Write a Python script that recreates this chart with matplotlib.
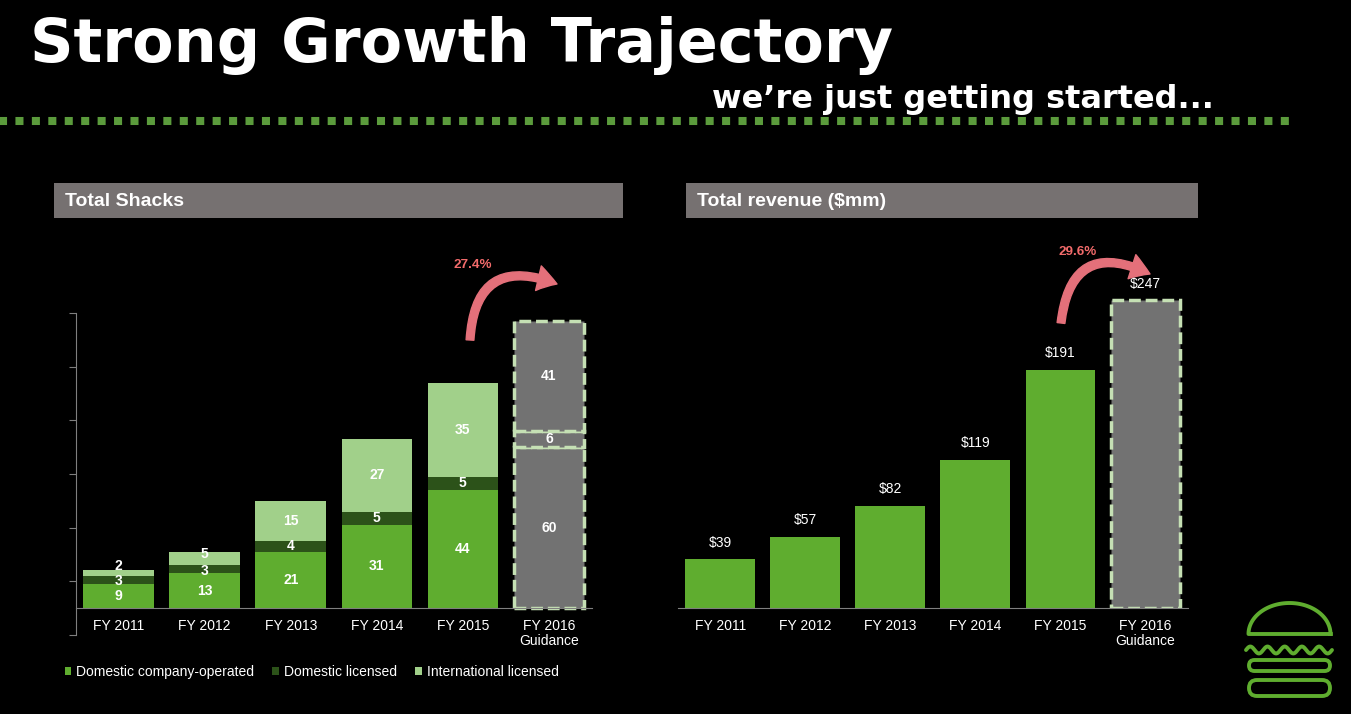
import matplotlib
matplotlib.use('Agg')
import matplotlib.pyplot as plt
from matplotlib.patches import Rectangle, FancyArrowPatch, FancyBboxPatch
from matplotlib.lines import Line2D
import numpy as np

categories = ['FY 2011', 'FY 2012', 'FY 2013', 'FY 2014', 'FY 2015', 'FY 2016\nGuidance']
domestic_company = [9, 13, 21, 31, 44, 60]
domestic_licensed = [3, 3, 4, 5, 5, 6]
international = [2, 5, 15, 27, 35, 41]
revenue = [39, 57, 82, 119, 191, 247]
shack_growth = '27.4%'
revenue_growth = '29.6%'

GREEN = '#5fad2f'
DARK_GREEN = '#2c5219'
LIGHT_GREEN = '#a1d08a'
GRAY = '#727272'
EDGE = '#c5e0b4'
HEADER = '#767171'
ARROW = '#e4707a'
PCT = '#f26b6b'
W, H = 1351, 714

plt.rcParams['font.family'] = ['Liberation Sans', 'DejaVu Sans']
fig = plt.figure(figsize=(W / 100, H / 100), dpi=100, facecolor='black')


def fx(px):
    return px / W


def fy(py):
    return 1 - py / H


# title and subtitle
fig.text(fx(30), fy(62), 'Strong Growth Trajectory', color='white', fontsize=43.5,
         fontweight='bold', family='DejaVu Sans', va='baseline', ha='left')
fig.text(fx(1214), fy(108), 'we\u2019re just getting started...',
         color='white', fontsize=23, fontweight='bold', family='DejaVu Sans',
         va='baseline', ha='right')
fig.add_artist(Line2D([fx(-6), fx(1292)], [fy(121), fy(121)], transform=fig.transFigure,
                      color='#5b9b3c', lw=5.8, solid_capstyle='butt', dash_capstyle='butt',
                      linestyle=(0, (1.0, 1.04))))

# header boxes
for x0, x1, label in [(54, 623, 'Total Shacks'), (686, 1198, 'Total revenue ($mm)')]:
    fig.add_artist(Rectangle((fx(x0), fy(218)), fx(x1 - x0), 35 / H, transform=fig.transFigure,
                             facecolor=HEADER, edgecolor='none'))
    fig.text(fx(x0 + 11), fy(201), label, color='white', fontsize=14, fontweight='bold',
             va='center', ha='left')

x = np.arange(len(categories))
bw = 0.82
dash = (0, (3.4, 1.4))
arrow_style = 'simple,head_length=1.0,head_width=1.3,tail_width=0.4'

# ---- left: total shacks ----
ax1 = fig.add_axes([fx(75.6), fy(634.8), fx(516.4), 321.6 / H])
ax1.set_facecolor('black')
ax1.set_xlim(-0.5, 5.5)
ax1.set_ylim(-10, 110)

b1 = ax1.bar(x[:5], domestic_company[:5], bw, color=GREEN, label='Domestic company-operated')
bot2 = np.array(domestic_company[:5])
b2 = ax1.bar(x[:5], domestic_licensed[:5], bw, bottom=bot2, color=DARK_GREEN,
             label='Domestic licensed')
bot3 = bot2 + np.array(domestic_licensed[:5])
b3 = ax1.bar(x[:5], international[:5], bw, bottom=bot3, color=LIGHT_GREEN,
             label='International licensed')

guid_vals = [domestic_company[5], domestic_licensed[5], international[5]]
guid_bottoms = [0, domestic_company[5], domestic_company[5] + domestic_licensed[5]]
for v, b in zip(guid_vals, guid_bottoms):
    ax1.bar(x[5], v, bw, bottom=b, color=GRAY, edgecolor=EDGE, lw=2.5, linestyle=dash)

for i in range(len(categories)):
    segs = [domestic_company[i], domestic_licensed[i], international[i]]
    b = 0
    for k, s in enumerate(segs):
        # thin segments: push the labels apart a little so they stay readable
        off = 0
        if k == 2 and s < 6:
            off = 7 if s < 3 else 4
        elif k == 1 and segs[2] < 6:
            off = -1.5
        ax1.annotate(str(s), (x[i], b + s / 2), xytext=(0, off), textcoords='offset pixels',
                     color='white', fontsize=10, fontweight='bold', ha='center', va='center')
        b += s

for s in ['top', 'right']:
    ax1.spines[s].set_visible(False)
ax1.spines['bottom'].set_position(('data', 0))
ax1.spines['bottom'].set_color('#7f7f7f')
ax1.spines['left'].set_color('#7f7f7f')
ax1.set_yticks(range(-10, 111, 20))
ax1.set_yticklabels([])
ax1.tick_params(axis='y', direction='out', length=5, color='#7f7f7f')
ax1.set_xticks(x)
ax1.set_xticklabels(categories, color='white', fontsize=10, linespacing=1.1)
ax1.tick_params(axis='x', length=0, pad=8)

arr1 = FancyArrowPatch((fx(470), fy(340)), (fx(557), fy(284)), transform=fig.transFigure,
                       connectionstyle='arc3,rad=-0.68', arrowstyle=arrow_style,
                       mutation_scale=14, color=ARROW, shrinkA=0, shrinkB=0)
fig.add_artist(arr1)
fig.text(fx(473), fy(265), shack_growth, color=PCT, fontsize=9.7, fontweight='bold',
         ha='center', va='center')

leg = fig.legend(handles=[b1, b2, b3], loc='center left', bbox_to_anchor=(fx(64.5), fy(672)),
                 ncol=3, frameon=False, fontsize=10, handlelength=0.5, handleheight=0.5,
                 handletextpad=0.35, columnspacing=1.3, borderpad=0, borderaxespad=0,
                 labelcolor='white')

# ---- right: total revenue ----
ax2 = fig.add_axes([fx(677.6), fy(608), fx(510.4), 311.25 / H])
ax2.set_facecolor('black')
ax2.set_xlim(-0.5, 5.5)
ax2.set_ylim(0, 250)
ax2.bar(x[:5], revenue[:5], bw, color=GREEN)
ax2.bar(x[5], revenue[5], bw, color=GRAY, edgecolor=EDGE, lw=2.5, linestyle=dash)
for i, v in enumerate(revenue):
    ax2.annotate(f'${v}', (x[i], v), xytext=(0, 7), textcoords='offset points',
                 color='white', fontsize=10, ha='center', va='bottom')
for s in ['top', 'right', 'left']:
    ax2.spines[s].set_visible(False)
ax2.spines['bottom'].set_color('#7f7f7f')
ax2.set_yticks([])
ax2.set_xticks(x)
ax2.set_xticklabels(categories, color='white', fontsize=10, linespacing=1.1)
ax2.tick_params(axis='x', length=0, pad=8)

arr2 = FancyArrowPatch((fx(1061), fy(323)), (fx(1150), fy(274)), transform=fig.transFigure,
                       connectionstyle='arc3,rad=-0.7', arrowstyle=arrow_style,
                       mutation_scale=14, color=ARROW, shrinkA=0, shrinkB=0)
fig.add_artist(arr2)
fig.text(fx(1078), fy(252), revenue_growth, color=PCT, fontsize=9.7, fontweight='bold',
         ha='center', va='center')

# ---- burger logo ----
lg = fig.add_axes([fx(1235), fy(705), fx(110), 110 / H])
lg.set_xlim(1235, 1345)
lg.set_ylim(705, 595)
lg.axis('off')
t = np.linspace(0, np.pi, 80)
dx = np.concatenate([1289.5 + 41 * np.cos(t), [1248.5, 1330.5]])
dy = np.concatenate([634 - 31 * np.sin(t), [634, 634]])
lg.plot(dx, dy, color=GREEN, lw=2.8, solid_joinstyle='round')
xw = np.linspace(1246, 1332, 200)
lg.plot(xw, 650 - 3.5 * np.sin(2 * np.pi * (xw - 1246) / 17.2), color=GREEN, lw=2.8,
        solid_capstyle='round')
for y0, h in [(660, 11), (680, 16)]:
    lg.add_patch(FancyBboxPatch((1249, y0), 81, h, boxstyle=f'round,pad=0,rounding_size={h / 2}',
                                facecolor='none', edgecolor=GREEN, lw=2.8))

fig.savefig('out.png', dpi=100, facecolor='black')
